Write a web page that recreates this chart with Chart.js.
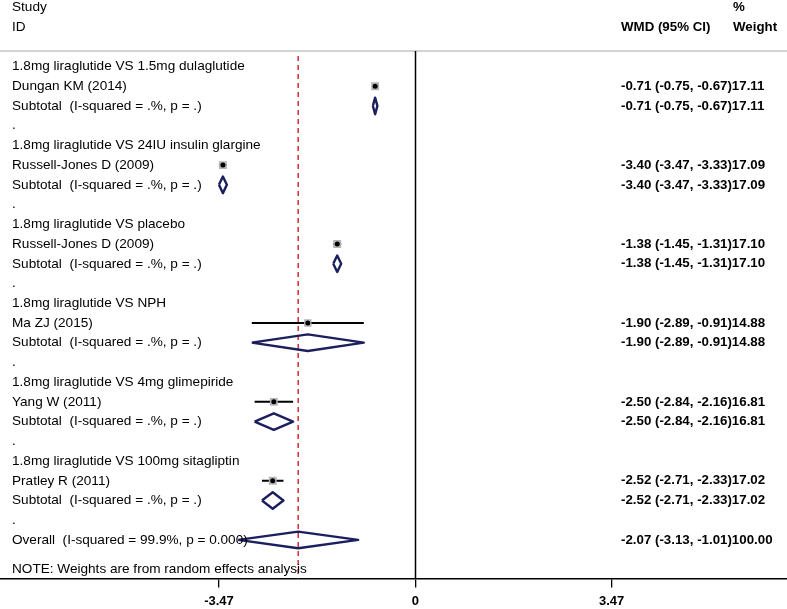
<!DOCTYPE html>
<html>
<head>
<meta charset="utf-8">
<script src="https://cdn.jsdelivr.net/npm/chart.js@4.4.0/dist/chart.umd.min.js"></script>
<style>
html,body{margin:0;padding:0;background:#fff;}
canvas{display:block;}
</style>
</head>
<body>
<canvas id="c" width="787" height="609"></canvas>
<script>
// ---- data ----
const groupTitles = [
  '1.8mg liraglutide VS 1.5mg dulaglutide',
  '1.8mg liraglutide VS 24IU insulin glargine',
  '1.8mg liraglutide VS placebo',
  '1.8mg liraglutide VS NPH',
  '1.8mg liraglutide VS 4mg glimepiride',
  '1.8mg liraglutide VS 100mg sitagliptin'
];
const studies = ['Dungan KM (2014)','Russell-Jones D (2009)','Russell-Jones D (2009)','Ma ZJ (2015)','Yang W (2011)','Pratley R (2011)'];
const wmd    = [-0.71, -3.40, -1.38, -1.90, -2.50, -2.52];
const lower  = [-0.75, -3.47, -1.45, -2.89, -2.84, -2.71];
const upper  = [-0.67, -3.33, -1.31, -0.91, -2.16, -2.33];
const weights = [17.11, 17.09, 17.10, 14.88, 16.81, 17.02];
const subtotalLabel = 'Subtotal  (I-squared = .%, p = .)';
const overallLabel = 'Overall  (I-squared = 99.9%, p = 0.000)';
const overallWMD = -2.07, overallLower = -3.13, overallUpper = -1.01, overallWeight = 100.00;
const xTicks = [-3.47, 0, 3.47];
const noteText = 'NOTE: Weights are from random effects analysis';

// ---- layout helpers (row indices) ----
const rowTitle = g => 1 + 4*g;
const rowStudy = g => 2 + 4*g;
const rowSub = g => 3 + 4*g;
const rowDot = g => 4 + 4*g;
const rowOverall = 25;
const rowNote = 26.5;
const DH = 0.42; // diamond half height (rows)

const NAVY = '#1b1f5e';
const datasets = [];
function diamond(est, lo, hi, r){
  return {type:'line', data:[{x:lo,y:r},{x:est,y:r-DH},{x:hi,y:r},{x:est,y:r+DH},{x:lo,y:r}],
    borderColor:NAVY, borderWidth:2.4, pointRadius:0, fill:false, tension:0, order:3, borderJoinStyle:'round'};
}
for (let g=0; g<studies.length; g++){
  datasets.push({type:'line', data:[{x:lower[g],y:rowStudy(g)},{x:upper[g],y:rowStudy(g)}],
    borderColor:'#000', borderWidth:2, pointRadius:0, order:2});
  datasets.push(diamond(wmd[g], lower[g], upper[g], rowSub(g)));
}
datasets.push(diamond(overallWMD, overallLower, overallUpper, rowOverall));
datasets.push({type:'scatter', data: wmd.map((v,g)=>({x:v,y:rowStudy(g)})),
  pointStyle:'rect', pointRadius: weights.map(w=>5.6*Math.sqrt(w/17.1)), backgroundColor:'#b4b4b4', borderWidth:0, order:1});
datasets.push({type:'scatter', data: wmd.map((v,g)=>({x:v,y:rowStudy(g)})),
  pointStyle:'circle', pointRadius:2.5, backgroundColor:'#000', borderWidth:0, order:0});

const FONT = '"Liberation Sans", Arial, sans-serif';
const FS = 13.6, FSB = 13.3;
const textPlugin = {
  id:'forestText',
  beforeDatasetsDraw(chart){
    const {ctx, chartArea:a, scales:{x,y}} = chart;
    ctx.save();
    // top gray line
    ctx.strokeStyle = '#c4c4c4'; ctx.lineWidth = 1.5;
    ctx.beginPath(); ctx.moveTo(0, a.top); ctx.lineTo(chart.width, a.top); ctx.stroke();
    // null line
    const x0 = Math.round(x.getPixelForValue(0))+0.5;
    ctx.strokeStyle = '#000'; ctx.lineWidth = 1.5;
    ctx.beginPath(); ctx.moveTo(x0, a.top); ctx.lineTo(x0, a.bottom); ctx.stroke();
    // overall dashed line
    const xo = x.getPixelForValue(overallWMD);
    ctx.strokeStyle = '#cc1f2a'; ctx.lineWidth = 1.4; ctx.setLineDash([5,4]);
    ctx.beginPath(); ctx.moveTo(xo, a.top+5); ctx.lineTo(xo, a.bottom); ctx.stroke();
    ctx.setLineDash([]);
    ctx.restore();
  },
  afterDatasetsDraw(chart){
    const {ctx, scales:{x,y}} = chart;
    ctx.save();
    ctx.fillStyle = '#000';
    ctx.textBaseline = 'middle';
    const LX = 12, RX = 621, WX = 733;
    const left = (t, r) => { ctx.fillText(t, LX, y.getPixelForValue(r)); };
    const fmt = v => v.toFixed(2);
    const REG = FS + 'px ' + FONT, BOLD = 'bold ' + FSB + 'px ' + FONT;
    // headers
    ctx.font = REG; ctx.textAlign = 'left';
    left('Study', -2); left('ID', -1);
    ctx.font = BOLD;
    ctx.fillText('WMD (95% CI)', RX, y.getPixelForValue(-1));
    ctx.fillText('%', WX, y.getPixelForValue(-2));
    ctx.fillText('Weight', WX, y.getPixelForValue(-1));
    for (let g=0; g<studies.length; g++){
      ctx.font = REG;
      left(groupTitles[g], rowTitle(g));
      left(studies[g], rowStudy(g));
      left(subtotalLabel, rowSub(g));
      left('.', rowDot(g));
      ctx.font = BOLD;
      const s = `${fmt(wmd[g])} (${fmt(lower[g])}, ${fmt(upper[g])})${fmt(weights[g])}`;
      ctx.fillText(s, RX, y.getPixelForValue(rowStudy(g)));
      ctx.fillText(s, RX, y.getPixelForValue(rowSub(g)));
    }
    ctx.font = REG;
    left(overallLabel, rowOverall);
    left(noteText, rowNote);
    ctx.font = BOLD;
    ctx.fillText(`${fmt(overallWMD)} (${fmt(overallLower)}, ${fmt(overallUpper)})${fmt(overallWeight)}`, RX, y.getPixelForValue(rowOverall));
    ctx.restore();
  }
};

new Chart(document.getElementById('c'), {
  data:{datasets},
  options:{
    responsive:false, animation:false, devicePixelRatio:1,
    layout:{autoPadding:false, padding:{top:51, left:0, right:0, bottom:-6}},
    plugins:{legend:{display:false}, tooltip:{enabled:false}},
    scales:{
      x:{type:'linear', min:-7.339, max:6.568,
        afterBuildTicks: ax => { ax.ticks = xTicks.map(v=>({value:v})); },
        afterFit: ax => { ax.paddingLeft = 0; ax.paddingRight = 0; },
        ticks:{color:'#000', padding:6, autoSkip:false, maxRotation:0,
          font:{family:FONT, size:13, weight:'bold'},
          callback: v => String(v)},
        grid:{drawOnChartArea:false, drawTicks:true, tickLength:9, color:'#000', lineWidth:1.3},
        border:{display:true, color:'#000', width:1.5}
      },
      y:{type:'linear', display:false, reverse:true, min:0.215, max:26.95}
    }
  },
  plugins:[textPlugin]
});
</script>
</body>
</html>
